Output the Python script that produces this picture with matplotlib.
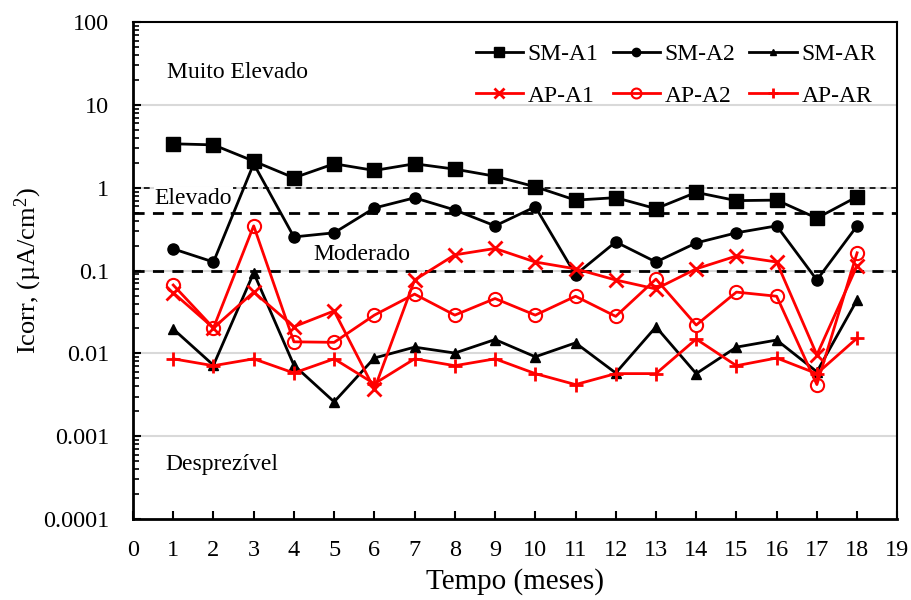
import numpy as np
import matplotlib
matplotlib.use("Agg")
import matplotlib.pyplot as plt
from matplotlib.ticker import FixedLocator, FuncFormatter, NullFormatter

plt.rcParams['font.family'] = ['Liberation Serif', 'DejaVu Serif']
plt.rcParams['mathtext.fontset'] = 'custom'
plt.rcParams['mathtext.rm'] = 'Liberation Serif'
plt.rcParams['mathtext.it'] = 'Liberation Serif:italic'

meses = np.arange(1, 19)

# Icorr (uA/cm2) per month
sm_a1 = [3.4, 3.3, 2.1, 1.32, 1.95, 1.62, 1.95, 1.68, 1.38, 1.03, 0.71, 0.76, 0.56, 0.88, 0.70, 0.71, 0.43, 0.78]
sm_a2 = [0.183, 0.127, 1.95, 0.255, 0.286, 0.57, 0.757, 0.54, 0.347, 0.59, 0.089, 0.222, 0.127, 0.216, 0.286, 0.347, 0.077, 0.347]
sm_ar = [0.0197, 0.0072, 0.094, 0.0072, 0.0026, 0.0088, 0.0119, 0.0101, 0.0147, 0.0091, 0.0134, 0.0058, 0.0209, 0.0057, 0.0119, 0.0145, 0.006, 0.0443]
ap_a1 = [0.054, 0.0203, 0.055, 0.021, 0.0326, 0.0037, 0.077, 0.155, 0.185, 0.127, 0.105, 0.077, 0.060, 0.105, 0.15, 0.127, 0.0096, 0.115]
ap_a2 = [0.067, 0.0203, 0.347, 0.0138, 0.0136, 0.029, 0.052, 0.029, 0.046, 0.029, 0.049, 0.028, 0.079, 0.022, 0.055, 0.049, 0.0042, 0.164]
ap_ar = [0.0086, 0.0071, 0.0086, 0.0058, 0.0086, 0.0043, 0.0086, 0.0071, 0.0086, 0.0057, 0.0042, 0.0057, 0.0057, 0.0149, 0.0071, 0.0088, 0.0057, 0.0153]

# risk class limits
limites = [1.0, 0.5, 0.1]

decadas = [1e-4, 1e-3, 1e-2, 1e-1, 1, 10, 100]

fig = plt.figure(figsize=(9.11, 6.0), dpi=100)
ax = fig.add_axes([0.146, 0.135, 0.839, 0.828])

ax.set_yscale('log')
ax.set_ylim(1e-4, 100)
ax.set_xlim(0, 19)

# light grid at each decade
for d in decadas[1:-1]:
    ax.axhline(d, color='#d9d9d9', lw=1.5, zorder=0)

ax.axhline(limites[0], color='black', lw=1.2, dashes=(3.5, 3), zorder=1)
ax.axhline(limites[1], color='black', lw=2.0, dashes=(4, 3), zorder=1)
ax.axhline(limites[2], color='black', lw=2.0, dashes=(4, 3), zorder=1)

h1, = ax.plot(meses, sm_a1, '-s', color='black', lw=2, ms=9.5, label='SM-A1', zorder=3)
h2, = ax.plot(meses, sm_a2, '-o', color='black', lw=2, ms=8, label='SM-A2', zorder=3)
h3, = ax.plot(meses, sm_ar, '-^', color='black', lw=2, ms=6.5, label='SM-AR', zorder=3)
h4, = ax.plot(meses, ap_a1, '-x', color='red', lw=2, ms=9.5, mew=2, label='AP-A1', zorder=4)
h5, = ax.plot(meses, ap_a2, '-o', color='red', lw=2, ms=9.5, mew=1.5, mfc='none', label='AP-A2', zorder=4)
h6, = ax.plot(meses, ap_ar, '-+', color='red', lw=2, ms=10.5, mew=2, label='AP-AR', zorder=4)

ax.text(2.6, 25, 'Muito Elevado', fontsize=17, ha='center', va='center')
ax.text(1.5, 0.74, 'Elevado', fontsize=17, ha='center', va='center',
        bbox=dict(facecolor='white', edgecolor='none', pad=0.5))
ax.text(5.7, 0.155, 'Moderado', fontsize=17, ha='center', va='center')
ax.text(2.2, 0.00045, 'Desprezível', fontsize=17, ha='center', va='center')

# ticks only inside the plotted range
menores = [m * d for d in decadas[:-1] for m in range(2, 10)]
ax.xaxis.set_major_locator(FixedLocator(range(0, 20)))
ax.yaxis.set_major_locator(FixedLocator(decadas))
ax.yaxis.set_minor_locator(FixedLocator(menores))
ax.yaxis.set_major_formatter(FuncFormatter(lambda v, p: f'{v:g}'))
ax.yaxis.set_minor_formatter(NullFormatter())
ax.tick_params(axis='both', which='major', direction='in', length=6, width=1.5, labelsize=17.5)
ax.tick_params(axis='x', which='major', pad=15)
ax.tick_params(axis='y', which='major', pad=17)
ax.tick_params(axis='y', which='minor', direction='in', length=4, width=1.2)
ax.tick_params(axis='x', which='minor', bottom=False)

for s in ['left', 'bottom']:
    ax.spines[s].set_linewidth(2)
for s in ['top', 'right']:
    ax.spines[s].set_linewidth(1.5)

ax.set_xlabel('Tempo (meses)', fontsize=21)
ax.set_ylabel('Icorr, (µA/cm$^2$)', fontsize=19)
ax.xaxis.set_label_coords(0.5, -0.098)
ax.yaxis.set_label_coords(-0.117, 0.5)

handles = [h1, h4, h2, h5, h3, h6]
leg = ax.legend(handles=handles, ncol=3, loc='upper right', fontsize=17, frameon=False,
                markerscale=0.75, handlelength=2.0, handletextpad=0.2, columnspacing=0.6,
                borderaxespad=0.4, labelspacing=0.85, borderpad=0.5)
leg.set_zorder(5)

fig.savefig('out.png', dpi=100)
